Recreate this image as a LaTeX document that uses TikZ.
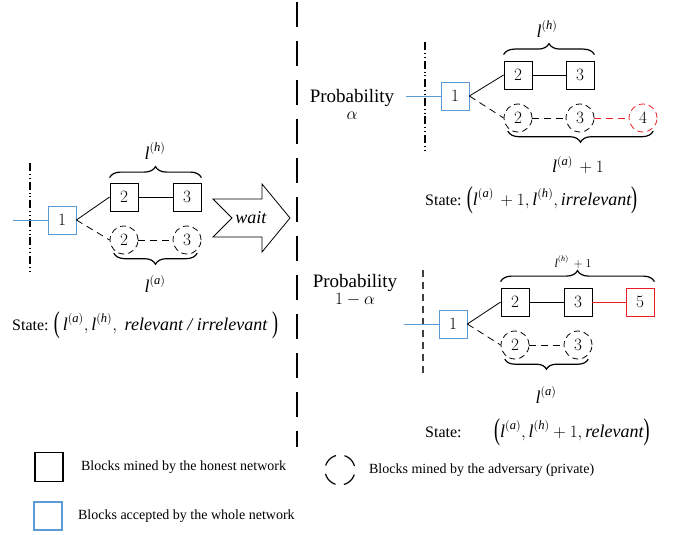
\documentclass[tikz,border=0pt]{standalone}
\usepackage{fontspec}
\setmainfont{Liberation Serif}
\usepackage{amsmath}
\usepackage{graphicx}
\usetikzlibrary{shapes,arrows,decorations.pathreplacing,positioning}
\definecolor{acceptblue}{RGB}{91,155,213}
\definecolor{newred}{RGB}{235,28,36}
\tikzstyle{honest}=[draw=black,line width=.8pt,minimum width=28pt,minimum height=28pt,inner sep=0pt,font=\fontsize{19}{19}\selectfont]
\tikzstyle{accepted}=[honest,draw=acceptblue]
\tikzstyle{private}=[circle,draw=black,line width=.8pt,dash pattern=on 6pt off 4pt,minimum size=28pt,inner sep=0pt,font=\fontsize{19}{19}\selectfont]
\tikzstyle{chain}=[black,line width=.8pt]
\tikzstyle{pchain}=[chain,dash pattern=on 7pt off 5pt]
\tikzstyle{brace}=[decorate,decoration={brace,amplitude=11pt},line width=1.2pt]
\tikzstyle{cut}=[black,line width=1.1pt,dash pattern=on 8pt off 3pt on .8pt off 3pt on .8pt off 3pt]
\tikzstyle{lab}=[font=\fontsize{18}{18}\selectfont]
\tikzstyle{state}=[font=\fontsize{16}{16}\selectfont,inner sep=0pt]
\tikzstyle{prob}=[font=\fontsize{19}{17}\selectfont,inner sep=0pt,align=center]
\tikzstyle{legend}=[font=\fontsize{14}{14}\selectfont]
\newcommand{\lsub}[1]{\textit{l}^{(\textit{#1})}}
\newcommand{\tpar}[1]{\raisebox{-1.5pt}{\scalebox{0.6}[1]{\fontsize{30}{30}\selectfont#1}}}
\newcommand{\tuple}[1]{{\fontsize{18}{16}\selectfont\tpar{(}$#1$\tpar{)}}}

\begin{document}
\begin{tikzpicture}[x=1pt,y=-1pt]
	\useasboundingbox (0,0) rectangle (699,535);

	%left: current state
	\coordinate (Lcut top) at (30,163);
	\coordinate (Lcut bot) at (30,273);
	\coordinate (Lin) at (13,220);
	\draw[cut] (Lcut top) -- (Lcut bot);
	\node[accepted] (L1) at (62,220) {$1$};
	\node[honest] (L2) at (124,197) {$2$};
	\node[honest] (L3) at (187,197) {$3$};
	\node[private] (La2) at (124,240) {$2$};
	\node[private] (La3) at (187,240) {$3$};
	\draw[acceptblue,line width=.8pt] (Lin) -- (L1);
	\draw[chain] (L1.east) -- (L2.west);
	\draw[chain] (L2) -- (L3);
	\draw[pchain] (L1.east) -- (La2.west);
	\draw[pchain] (La2) -- (La3);
	\draw[brace] ([yshift=5pt]L2.north west) -- ([yshift=5pt]L3.north east);
	\draw[brace] ([yshift=-3pt]La3.south east) -- ([yshift=-3pt]La2.south west);
	\node[lab] (Llh) at (155,151) {$\lsub{h}$};
	\node[lab] (Lla) at (155,284) {$\lsub{a}$};
	\node[state,anchor=west] (Lstate) at (12,325) {State: \tuple{\,\lsub{a},\lsub{h},\;\textit{relevant / irrelevant}\;}};

	%wait arrow
	\draw[line width=.8pt] (213,199) -- (262,199) -- (262,184) -- (290,218)
	-- (262,252) -- (262,237) -- (213,237) -- (232,218) -- cycle;
	\node[lab] (wait) at (251,218) {\textit{wait}};

	%separator
	\coordinate (sep top) at (297,2);
	\coordinate (sep bot) at (297,447);
	\draw[line width=1.8pt,dash pattern=on 25pt off 14pt] (sep top) -- (sep bot);

	%right top: adversary finds a block
	\node[prob] (Pa) at (352,104) {Probability\\$\alpha$};
	\coordinate (Tcut top) at (425,42);
	\coordinate (Tcut bot) at (425,150);
	\coordinate (Tin) at (406,96);
	\draw[cut] (Tcut top) -- (Tcut bot);
	\node[accepted] (T1) at (455,96) {$1$};
	\node[honest] (T2) at (518,75) {$2$};
	\node[honest] (T3) at (580,75) {$3$};
	\node[private] (Ta2) at (518,118) {$2$};
	\node[private] (Ta3) at (580,118) {$3$};
	\node[private,draw=newred] (Ta4) at (643,118) {$4$};
	\draw[acceptblue,line width=.8pt] (Tin) -- (T1);
	\draw[chain] (T1.east) -- (T2.west);
	\draw[chain] (T2) -- (T3);
	\draw[pchain] (T1.east) -- (Ta2.west);
	\draw[pchain] (Ta2) -- (Ta3);
	\draw[pchain,draw=newred] (Ta3) -- (Ta4);
	\draw[brace] ([yshift=6pt]T2.north west) -- ([yshift=6pt]T3.north east);
	\draw[brace] ([yshift=-3pt]Ta4.south east) -- ([yshift=-3pt]Ta2.south west);
	\node[lab] (Tlh) at (547,29) {$\lsub{h}$};
	\node[lab] (Tla) at (578,165) {$\lsub{a}\,+1$};
	\node[state,anchor=west] (Tstate) at (425,200) {State: \tuple{\lsub{a}\,+1,\lsub{h},\textit{irrelevant}}};

	%right bottom: honest network finds a block
	\node[prob] (Ph) at (355,283) {Probability};
	\node[prob,below=1pt of Ph] (Phv) {$1-\alpha$};
	\coordinate (Bcut top) at (423,270);
	\coordinate (Bcut bot) at (423,377);
	\coordinate (Bin) at (404,324);
	\draw[black!75,line width=1.1pt,dash pattern=on 7pt off 5pt] (Bcut top) -- (Bcut bot);
	\node[accepted] (B1) at (453,324) {$1$};
	\node[honest] (B2) at (515,302) {$2$};
	\node[honest] (B3) at (578,302) {$3$};
	\node[honest,draw=newred] (B5) at (640,302) {$5$};
	\node[private] (Ba2) at (515,345) {$2$};
	\node[private] (Ba3) at (578,345) {$3$};
	\draw[acceptblue,line width=.8pt] (Bin) -- (B1);
	\draw[chain] (B1.east) -- (B2.west);
	\draw[chain] (B2) -- (B3);
	\draw[chain,draw=newred] (B3) -- (B5);
	\draw[pchain] (B1.east) -- (Ba2.west);
	\draw[pchain] (Ba2) -- (Ba3);
	\draw[brace] ([yshift=6pt]B2.north west) -- ([yshift=6pt]B5.north east);
	\draw[brace,decoration={amplitude=10pt}] ([yshift=-4pt]Ba3.south east) -- ([yshift=-4pt]Ba2.south west);
	\node[font=\fontsize{12}{12}\selectfont] (Blh) at (573,262) {$\lsub{h}\,+1$};
	\node[lab] (Bla) at (546,395) {$\lsub{a}$};
	\node[state,anchor=west] (Bstate) at (425,432) {State:};
	\node[state,anchor=west] (Btuple) at (494,432) {\tuple{\lsub{a},\lsub{h}+1,\textit{relevant}}};

	%legend
	\node[honest,line width=1.2pt,minimum height=29pt] (keyH) at (49,467) {};
	\node[legend,right=14pt of keyH] (keyHt) {Blocks mined by the honest network};
	\node[ellipse,draw=black,line width=1.2pt,minimum width=30pt,minimum height=30pt,
	dash pattern=on 15pt off 8.5pt,dash phase=-4pt] (keyA) at (340,470) {};
	\node[legend,right=10pt of keyA] (keyAt) {Blocks mined by the adversary (private)};
	\node[accepted,line width=1.2pt] (keyB) at (48,516) {};
	\node[legend,right=12pt of keyB] (keyBt) {Blocks accepted by the whole network};
\end{tikzpicture}
\end{document}
